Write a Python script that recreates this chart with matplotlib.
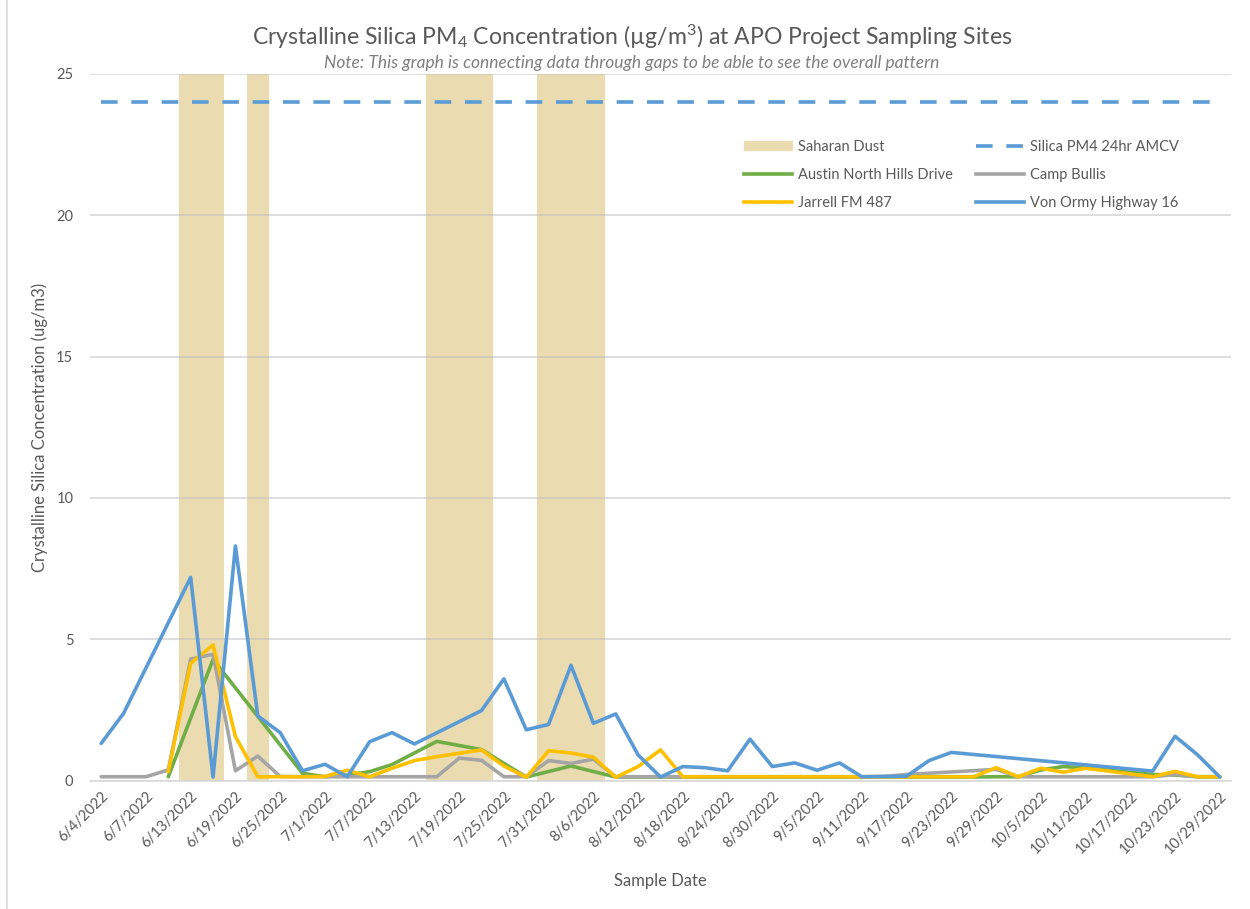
import matplotlib
matplotlib.use('Agg')
import matplotlib.pyplot as plt
import numpy as np
import pandas as pd
from matplotlib.lines import Line2D
from matplotlib.patches import Patch

plt.rcParams['font.family'] = ['Lato', 'DejaVu Sans']
plt.rcParams['mathtext.fontset'] = 'custom'
plt.rcParams['mathtext.rm'] = 'Lato'
plt.rcParams['mathtext.it'] = 'Lato:italic'

nan = np.nan

# category axis: one entry per sample day
sample_dates = ['6/4/2022', '6/6/2022'] + [f'{d.month}/{d.day}/{d.year}' for d in
                                           pd.date_range('2022-06-07', '2022-10-29', freq='3D')]

saharan_dust_dates = ['6/13/2022', '6/16/2022', '6/22/2022',
                      '7/16/2022', '7/19/2022', '7/22/2022',
                      '7/31/2022', '8/3/2022', '8/6/2022']
saharan_dust_value = 25
amcv_value = 24

austin = [nan, nan, nan, 0.14, nan, 4.29, nan, nan, nan, 0.26,
          0.14, 0.20, 0.32, 0.57, nan, 1.39, nan, 1.10, nan, 0.13,
          nan, 0.52, nan, 0.13, nan, nan, nan, nan, nan, nan,
          nan, nan, nan, nan, nan, nan, nan, nan, nan, 0.13,
          0.14, 0.14, 0.38, 0.50, 0.45, nan, nan, 0.22, 0.20, 0.14,
          0.14]

camp_bullis = [0.14, 0.14, 0.14, 0.38, 4.30, 4.47, 0.35, 0.87, 0.15, 0.14,
               0.14, 0.14, 0.14, 0.14, 0.14, 0.14, 0.80, 0.72, 0.14, 0.14,
               0.71, 0.61, 0.76, 0.14, 0.14, 0.14, 0.14, 0.14, 0.14, 0.14,
               0.14, 0.14, 0.14, 0.14, 0.14, 0.15, 0.22, nan, nan, nan,
               0.40, 0.14, 0.14, 0.14, 0.14, 0.14, 0.14, 0.14, 0.22, 0.14,
               0.14]

jarrell = [nan, nan, nan, 0.32, 4.15, 4.80, 1.56, 0.14, 0.14, 0.14,
           0.15, 0.37, 0.14, 0.44, 0.71, 0.85, 0.97, 1.09, 0.52, 0.12,
           1.06, 0.98, 0.83, 0.12, 0.50, 1.09, 0.14, 0.14, 0.14, 0.14,
           0.14, 0.14, 0.14, 0.14, 0.14, 0.14, 0.14, 0.14, 0.14, 0.14,
           0.46, 0.14, 0.44, 0.30, 0.44, 0.34, 0.24, 0.14, 0.33, 0.14,
           0.14]

von_ormy = [1.32, 2.38, nan, nan, 7.19, 0.13, 8.30, 2.29, 1.70, 0.35,
            0.58, 0.14, 1.38, 1.70, 1.30, nan, nan, 2.48, 3.60, 1.80,
            1.99, 4.08, 2.03, 2.36, 0.91, 0.13, 0.50, 0.46, 0.35, 1.47,
            0.50, 0.63, 0.37, 0.63, 0.14, 0.15, 0.16, 0.71, 1.00, nan,
            nan, nan, nan, nan, nan, nan, nan, 0.34, 1.57, 0.92,
            0.13]

txt = '#595959'
grid_c = '#BFBFBF'
dust_c = '#EADBB1'

fig = plt.figure(figsize=(12.5, 9.09), dpi=100)
ax = fig.add_axes([90 / 1250, 1 - 780.7 / 909, (1231 - 90) / 1250, (780.7 - 73.7) / 909])

x = np.arange(len(sample_dates))
dust_x = [sample_dates.index(d) for d in saharan_dust_dates]
ax.bar(dust_x, [saharan_dust_value] * len(dust_x), width=1.0, color=dust_c, zorder=1)

ax.plot(x, [amcv_value] * len(x), color='#5B9BD5', lw=2.6, linestyle=(0, (4.6, 3.8)), zorder=2)

series = [(austin, '#70AD47'), (camp_bullis, '#A5A5A5'), (jarrell, '#FFC000'), (von_ormy, '#5B9BD5')]
for vals, col in series:
    y = np.array(vals, dtype=float)
    ok = ~np.isnan(y)
    ax.plot(x[ok], y[ok], color=col, lw=2.6, solid_joinstyle='round', solid_capstyle='round', zorder=2)

ax.set_xlim(-0.5, len(sample_dates) - 0.5)
ax.set_ylim(0, 25)
ax.set_yticks([0, 5, 10, 15, 20, 25])
ax.set_xticks(x[::2])
ax.set_xticklabels(sample_dates[::2], rotation=45, ha='right', rotation_mode='anchor')
ax.tick_params(axis='both', length=0, labelsize=10.5, labelcolor=txt)
ax.tick_params(axis='y', pad=12)
ax.tick_params(axis='x', pad=6)

ax.set_axisbelow('line')
ax.yaxis.grid(True, color=grid_c, alpha=0.6, lw=1.2)
for s in ['top', 'right', 'left']:
    ax.spines[s].set_visible(False)
ax.spines['bottom'].set_color('#D9D9D9')
ax.spines['bottom'].set_linewidth(1.2)

ax.set_ylabel('Crystalline Silica Concentration (ug/m3)', fontsize=12, color=txt, labelpad=6)
ax.set_xlabel('Sample Date', fontsize=12, color=txt, labelpad=12)

fig.text(0.5055, 1 - 37 / 909, 'Crystalline Silica PM$_4$ Concentration (µg/m$^3$) at APO Project Sampling Sites',
         ha='center', va='center', fontsize=16.6, color=txt)
fig.text(0.5055, 1 - 63 / 909, 'Note: This graph is connecting data through gaps to be able to see the overall pattern',
         ha='center', va='center', fontsize=12.5, color='#7F7F7F', style='italic')

handles = [Patch(color=dust_c, label='Saharan Dust'),
           Line2D([], [], color='#70AD47', lw=2.6, label='Austin North Hills Drive'),
           Line2D([], [], color='#FFC000', lw=2.6, label='Jarrell FM 487'),
           Line2D([], [], color='#5B9BD5', lw=2.6, linestyle=(0, (4.6, 3.8)), label='Silica PM4 24hr AMCV'),
           Line2D([], [], color='#A5A5A5', lw=2.6, label='Camp Bullis'),
           Line2D([], [], color='#5B9BD5', lw=2.6, label='Von Ormy Highway 16')]
leg = ax.legend(handles=handles, ncol=2, loc='upper left', bbox_to_anchor=(744 / 1250, 1 - 140 / 909),
                bbox_transform=fig.transFigure, frameon=False, fontsize=10.5, labelcolor=txt,
                handlelength=3.3, handleheight=0.6, handletextpad=0.4, labelspacing=0.95,
                columnspacing=1.6, borderpad=0, borderaxespad=0)

fig.add_artist(Line2D([7 / 1250, 7 / 1250], [0, 1], color='#D9D9D9', lw=1.2))

fig.savefig('out.png', dpi=100)
